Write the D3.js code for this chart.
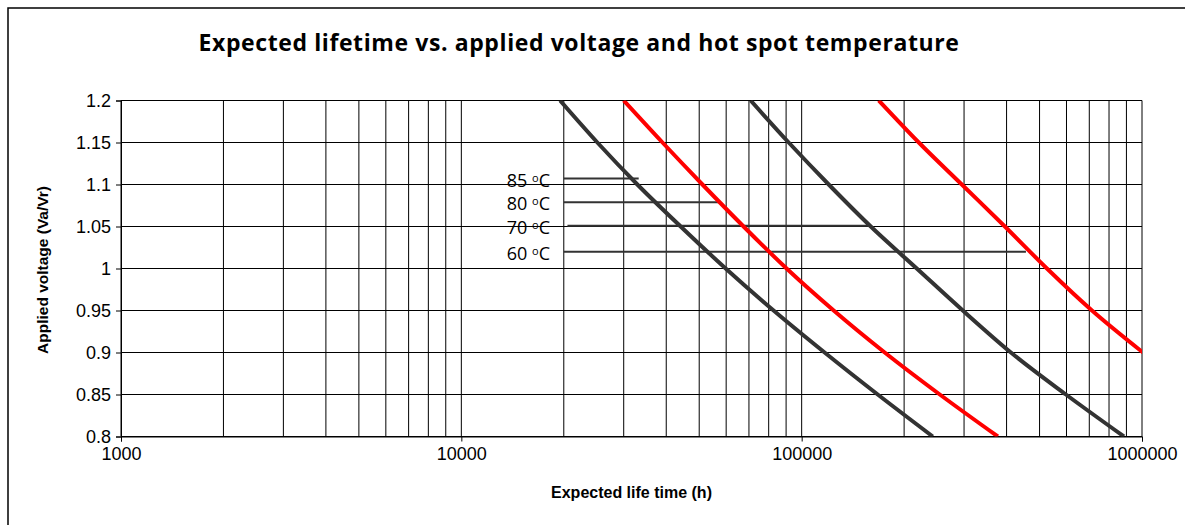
<!DOCTYPE html>
<meta charset="utf-8">
<script src="https://d3js.org/d3.v7.min.js"></script>
<style>
  body { margin: 0; background: #fff; }
  svg { display: block; }
</style>
<div id="chart"></div>
<script>

// voltage levels (Va/Vr) read at each gridline
var voltages = [1.2, 1.15, 1.1, 1.05, 1.0, 0.95, 0.9, 0.85, 0.8];

// expected life time (h) per hot spot temperature
var life85 = [19500, 25100, 32900, 44100, 59800, 82700, 116800, 167300, 242800];
var life80 = [30000, 39000, 51100, 67500, 90300, 124200, 175400, 254600, 377100];
var life70 = [70800, 91600, 120100, 159600, 217900, 297500, 411900, 597700, 885200];
var life60 = [168500, 220900, 295500, 395500, 525600, 712800, 1007000];

// label leader lines
var tempLabels = ["85", "80", "70", "60"];
var leaderVoltage = [1.107, 1.079, 1.051, 1.020];
var leaderStart = [20000, 20000, 20500, 20000];
var leaderEnd = [33200, 57000, 159600, 456000];

var xTicks = [1000, 10000, 100000, 1000000];
var yTicks = [0.8, 0.85, 0.9, 0.95, 1, 1.05, 1.1, 1.15, 1.2];

var W = 1185, H = 525;
var margin = {top: 100.5, left: 121, right: 43, bottom: 88.5};
var width = W - margin.left - margin.right,
    height = H - margin.top - margin.bottom;

var svg = d3.select("#chart").append("svg")
    .attr("width", W)
    .attr("height", H);

// outer frame (runs off the page at right and bottom)
svg.append("rect")
    .attr("x", 8).attr("y", 8)
    .attr("width", W + 10).attr("height", H + 10)
    .attr("fill", "none")
    .attr("stroke", "#000")
    .attr("stroke-width", 1.5);

svg.append("text")
    .attr("x", 579)
    .attr("y", 51)
    .attr("text-anchor", "middle")
    .style("font-family", "'Open Sans', sans-serif")
    .style("font-weight", "bold")
    .style("font-size", "23px")
    .style("letter-spacing", "0.6px")
    .text("Expected lifetime vs. applied voltage and hot spot temperature");

var g = svg.append("g")
    .attr("transform", "translate(" + margin.left + "," + margin.top + ")");

var x = d3.scaleLog().domain([1000, 1000000]).range([0, width]);
var y = d3.scaleLinear().domain([0.8, 1.2]).range([height, 0]);

// grid: vertical lines on every 1..9 x decade
var xGrid = [];
[1000, 10000, 100000].forEach(function(d) {
  for (var k = 1; k < 10; k++) xGrid.push(d * k);
});
xGrid.push(1000000);

g.append("g").selectAll("line")
  .data(xGrid)
  .enter().append("line")
    .attr("x1", d => x(d)).attr("x2", d => x(d))
    .attr("y1", 0).attr("y2", height)
    .attr("stroke", "#000")
    .attr("stroke-width", 1);

g.append("g").selectAll("line")
  .data(yTicks)
  .enter().append("line")
    .attr("x1", 0).attr("x2", width)
    .attr("y1", d => y(d)).attr("y2", d => y(d))
    .attr("stroke", "#000")
    .attr("stroke-width", 1);

// axes
var xAxis = g.append("g")
    .attr("transform", "translate(0," + height + ")")
    .call(d3.axisBottom(x).tickValues(xTicks).tickFormat(d3.format("d")).tickSize(5).tickPadding(6));

var yAxis = g.append("g")
    .call(d3.axisLeft(y).tickValues(yTicks).tickFormat(d => String(+d.toFixed(2))).tickSize(5).tickPadding(5));

[xAxis, yAxis].forEach(function(a) {
  a.select(".domain").attr("stroke", "#000");
  a.selectAll(".tick line").attr("stroke", "#000");
  a.selectAll("text")
    .style("font-family", "'Liberation Sans', Arial, sans-serif")
    .style("font-size", "18px")
    .attr("fill", "#000");
});
yAxis.selectAll("text").attr("dy", "0.35em");

svg.append("text")
    .attr("x", margin.left + width / 2)
    .attr("y", 498)
    .attr("text-anchor", "middle")
    .style("font-family", "'Liberation Sans', Arial, sans-serif")
    .style("font-weight", "bold")
    .style("font-size", "16px")
    .text("Expected life time (h)");

svg.append("text")
    .attr("transform", "translate(48,270) rotate(-90)")
    .attr("text-anchor", "middle")
    .style("font-family", "'Liberation Sans', Arial, sans-serif")
    .style("font-weight", "bold")
    .style("font-size", "15.5px")
    .text("Applied voltage (Va/Vr)");

// curves
g.append("clipPath").attr("id", "plotclip")
  .append("rect").attr("width", width).attr("height", height);

var series = [
  {life: life85, color: "#333333"},
  {life: life80, color: "#ff0000"},
  {life: life70, color: "#333333"},
  {life: life60, color: "#ff0000"}
];

var line = d3.line()
    .x(d => x(d[0]))
    .y(d => y(d[1]))
    .curve(d3.curveMonotoneX);

var curves = g.append("g").attr("clip-path", "url(#plotclip)");

// leader lines
curves.selectAll(".leader")
  .data(tempLabels)
  .enter().append("line")
    .attr("class", "leader")
    .attr("x1", (d, i) => x(leaderStart[i]))
    .attr("x2", (d, i) => x(leaderEnd[i]))
    .attr("y1", (d, i) => y(leaderVoltage[i]))
    .attr("y2", (d, i) => y(leaderVoltage[i]))
    .attr("stroke", "#333")
    .attr("stroke-width", 2);

series.forEach(function(s) {
  var pts = s.life.map((t, i) => [t, voltages[i]]);
  curves.append("path")
    .attr("d", line(pts))
    .attr("fill", "none")
    .attr("stroke", s.color)
    .attr("stroke-width", 4);
});

// temperature labels
var labels = g.append("g").selectAll("text")
  .data(tempLabels)
  .enter().append("text")
    .attr("x", 429)
    .attr("y", (d, i) => y(leaderVoltage[i]) + 8)
    .attr("text-anchor", "end")
    .style("font-family", "'Open Sans', sans-serif")
    .style("font-size", "18px")
    .attr("fill", "#000");

labels.append("tspan").text(d => d + " ");
labels.append("tspan").attr("dy", -5).style("font-size", "11px").text("o");
labels.append("tspan").attr("dy", 5).text("C");

</script>
